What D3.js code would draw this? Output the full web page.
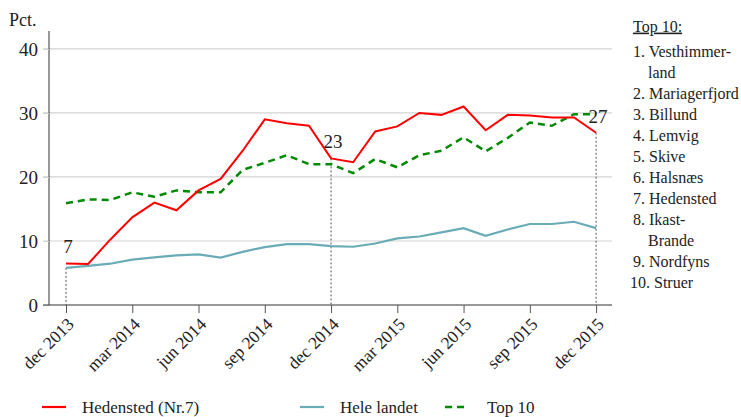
<!DOCTYPE html>
<html>
<head>
<meta charset="utf-8">
<script src="https://cdn.jsdelivr.net/npm/d3@7"></script>
<style>
  body { margin: 0; background: #fff; }
  svg text { font-family: "Liberation Serif", "Times New Roman", serif; }
</style>
</head>
<body>
<div id="chart-area"></div>
<script>
// months, dec 2013 .. dec 2015
var months = ["dec 2013", "jan 2014", "feb 2014", "mar 2014", "apr 2014", "maj 2014", "jun 2014",
    "jul 2014", "aug 2014", "sep 2014", "okt 2014", "nov 2014", "dec 2014", "jan 2015", "feb 2015",
    "mar 2015", "apr 2015", "maj 2015", "jun 2015", "jul 2015", "aug 2015", "sep 2015", "okt 2015",
    "nov 2015", "dec 2015"];
var tickLabels = ["dec 2013", "mar 2014", "jun 2014", "sep 2014", "dec 2014", "mar 2015", "jun 2015", "sep 2015", "dec 2015"];

var hedensted = [6.5, 6.4, 10.2, 13.7, 16.0, 14.8, 17.9, 19.7, 24.1, 29.0, 28.4, 28.0,
    22.9, 22.3, 27.1, 27.9, 30.0, 29.7, 31.0, 27.3, 29.7, 29.6, 29.3, 29.3, 26.9];
var heleLandet = [5.8, 6.1, 6.45, 7.1, 7.45, 7.75, 7.9, 7.4, 8.3, 9.05, 9.5, 9.5,
    9.2, 9.1, 9.6, 10.4, 10.7, 11.35, 12.0, 10.8, 11.8, 12.65, 12.65, 13.0, 12.0];
var top10 = [15.9, 16.5, 16.4, 17.6, 16.9, 17.9, 17.6, 17.6, 21.1, 22.2, 23.4, 22.0,
    22.0, 20.6, 22.8, 21.5, 23.4, 24.1, 26.2, 24.0, 26.1, 28.5, 28.0, 29.8, 29.8];

var yTicks = [0, 10, 20, 30, 40];
var labelled = ["dec 2013", "dec 2014", "dec 2015"];
var labelText = ["7", "23", "27"];

var top10List = ["Top 10:", "1. Vesthimmer-", "land", "2. Mariagerfjord", "3. Billund", "4. Lemvig",
    "5. Skive", "6. Halsnæs", "7. Hedensted", "8. Ikast-", "Brande", "9. Nordfyns", "10. Struer"];

var legendNames = ["Hedensted (Nr.7)", "Hele landet", "Top 10"];

var red = "#ff0000", teal = "#6aacb6", green = "#008a00";
var serif = "'Liberation Serif', 'Times New Roman', serif";

var width = 741, height = 417;
var svg = d3.select("#chart-area").append("svg")
    .attr("width", width)
    .attr("height", height)
    .attr("font-family", serif);

var x = d3.scaleLinear().domain([-0.77, 24.72]).range([49, 612]);
var y = d3.scaleLinear().domain([0, 42.8]).range([305, 31]);

// grid
svg.selectAll("line.grid").data(yTicks.slice(1)).join("line")
    .attr("class", "grid")
    .attr("x1", 43).attr("x2", x.range()[1])
    .attr("y1", d => y(d)).attr("y2", d => y(d))
    .attr("stroke", "#d4d4d4").attr("stroke-width", 1.2);

// y axis
var yAxis = svg.append("g")
    .attr("transform", "translate(49,0)")
    .call(d3.axisLeft(y).tickValues(yTicks).tickSize(6).tickPadding(5))
    .attr("font-family", serif);
yAxis.select(".domain").attr("stroke", "#333").attr("d", "M0," + y(0) + "V" + y.range()[1]);
yAxis.selectAll(".tick line").attr("stroke", "#d4d4d4");
yAxis.selectAll("text").attr("font-size", 19).attr("fill", "#222");

svg.append("text").attr("x", 9).attr("y", 26)
    .attr("font-size", 18).attr("fill", "#222").text("Pct.");

// x axis
var tickIdx = tickLabels.map(t => months.indexOf(t));
var xAxis = svg.append("g")
    .attr("transform", "translate(0," + y(0) + ")")
    .call(d3.axisBottom(x).tickValues(tickIdx).tickSize(8).tickFormat((d, i) => tickLabels[i]))
    .attr("font-family", serif);
xAxis.select(".domain").attr("stroke", "#333").attr("d", "M43,0H" + x.range()[1]);
xAxis.selectAll(".tick line").attr("stroke", "#555");
xAxis.selectAll("text")
    .attr("font-size", 17.5).attr("fill", "#222")
    .attr("text-anchor", "end")
    .attr("x", 0).attr("y", 0)
    .attr("dy", "0.35em")
    .attr("transform", "translate(4,16) rotate(-45)");

// dashed drop lines
var labIdx = labelled.map(m => months.indexOf(m));
svg.selectAll("line.drop").data(labIdx).join("line")
    .attr("class", "drop")
    .attr("x1", d => x(d)).attr("x2", d => x(d))
    .attr("y1", (d, i) => i === 0 ? y(heleLandet[d]) : y(hedensted[d]))
    .attr("y2", y(0))
    .attr("stroke", "#555").attr("stroke-width", 1).attr("stroke-dasharray", "2,2");

var line = d3.line().x((d, i) => x(i)).y(d => y(d));

svg.append("path").datum(heleLandet).attr("d", line)
    .attr("fill", "none").attr("stroke", teal).attr("stroke-width", 2.2);
svg.append("path").datum(top10).attr("d", line)
    .attr("fill", "none").attr("stroke", green).attr("stroke-width", 2.5)
    .attr("stroke-dasharray", "7,5");
svg.append("path").datum(hedensted).attr("d", line)
    .attr("fill", "none").attr("stroke", red).attr("stroke-width", 2);

// value labels
svg.selectAll("text.val").data(labIdx).join("text")
    .attr("class", "val")
    .attr("x", d => x(d) + 2)
    .attr("y", d => y(hedensted[d]) - 10)
    .attr("text-anchor", "middle")
    .attr("font-size", 19).attr("fill", "#222")
    .text((d, i) => labelText[i]);

// legend
var legX = [42, 300, 445];
var legColor = [red, teal, green];
var lg = svg.selectAll("g.leg").data(legendNames).join("g")
    .attr("class", "leg")
    .attr("transform", (d, i) => "translate(" + legX[i] + ",407)");
lg.append("line").attr("x1", 0).attr("x2", 24)
    .attr("stroke", (d, i) => legColor[i])
    .attr("stroke-width", (d, i) => i === 2 ? 2.5 : 2.2)
    .attr("stroke-dasharray", (d, i) => i === 2 ? "7,5" : null);
lg.append("text").attr("x", (d, i) => i === 2 ? 42 : 40).attr("y", 0).attr("dy", "0.35em")
    .attr("font-size", 17).attr("fill", "#222")
    .text(d => d);

// top 10 list
var listY = [26, 51, 72, 93, 114, 135, 156, 177, 198, 219, 240, 261, 282];
svg.selectAll("text.list").data(top10List).join("text")
    .attr("class", "list")
    .attr("x", (d, i) => i === 0 ? 633 : (d === "land" || d === "Brande") ? 648 : (i === 12 ? 630 : 633))
    .attr("y", (d, i) => listY[i])
    .attr("dy", "0.35em")
    .attr("font-size", 16).attr("fill", "#222")
    .attr("text-decoration", (d, i) => i === 0 ? "underline" : null)
    .text(d => d);
</script>
</body>
</html>
